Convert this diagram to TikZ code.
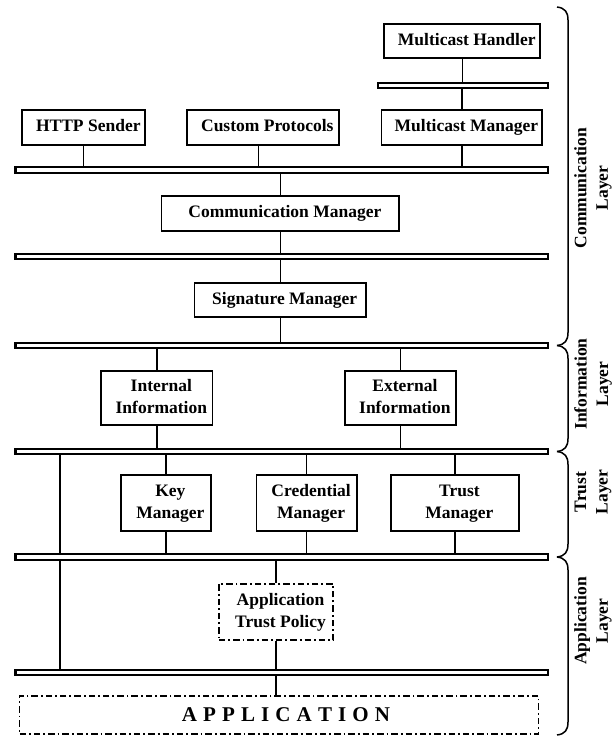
\documentclass[tikz,border=0pt]{standalone}
\usepackage{fontspec}
\setmainfont{Liberation Serif}
\newcommand\lbl{\fontsize{17.5}{21.5}\selectfont\bfseries}
\newcommand\lsp{\hspace{6.1pt}}
\newcommand\sh[1]{\hspace*{9pt}\begin{tabular}{@{}c@{}}#1\end{tabular}}
\begin{document}
\begin{tikzpicture}[x=1pt,y=-1pt,
  box/.style={draw, line width=1.7pt, inner sep=0pt, font=\lbl},
  bus/.style={draw, line width=2.3pt, inner sep=0pt, minimum height=5.6pt, fill=white},
  wire/.style={line width=1.3pt},
  dd/.style={line width=1.6pt, dash pattern=on 6.5pt off 3pt on 1.8pt off 3pt},
  brk/.style={line width=1.5pt},
  lay/.style={rotate=90, align=center, font=\lbl}]
\useasboundingbox (0,0) rectangle (615,737);

% boxes
\node[box, minimum width=156pt, minimum height=34.5pt] (mh) at (462.25,41) {\sh{Multicast Handler}};
\node[bus, minimum width=170pt] (sbar) at (463,85.5) {};
\node[box, minimum width=123pt, minimum height=35.5pt] (http) at (83.8,127.5) {\sh{HTTP Sender}};
\node[box, minimum width=152pt, minimum height=35.5pt] (cp) at (262.8,127.5) {\sh{Custom Protocols}};
\node[box, minimum width=160.6pt, minimum height=35.5pt] (mm) at (461.9,127.5) {\sh{Multicast Manager}};
\node[bus, minimum width=532.3pt] (b1) at (281.75,170) {};
\node[box, minimum width=237.6pt, minimum height=35.5pt] (cm) at (280.4,213.5) {\sh{Communication Manager}};
\node[bus, minimum width=532.3pt] (b2) at (281.75,256.5) {};
\node[box, minimum width=171.4pt, minimum height=34.5pt] (sm) at (280.2,300) {\sh{Signature Manager}};
\node[bus, minimum width=532.3pt] (b3) at (281.75,345.5) {};
\node[box, minimum width=111.3pt, minimum height=54.5pt] (int) at (156.85,398) {\sh{Internal\\Information}};
\node[box, minimum width=111.4pt, minimum height=54.5pt] (ext) at (400.4,398) {\sh{External\\Information}};
\node[bus, minimum width=532.3pt] (b4) at (281.75,451.5) {};
\node[box, minimum width=90.2pt, minimum height=56.5pt] (key) at (165.9,503) {\sh{Key\\Manager}};
\node[box, minimum width=100.3pt, minimum height=56.5pt] (cred) at (306.65,503) {\sh{Credential\\Manager}};
\node[box, minimum width=127.8pt, minimum height=56.5pt] (trust) at (454.9,503) {\sh{Trust\\Manager}};
\node[bus, minimum width=532.3pt] (b5) at (281.75,557) {};
\node[box, dd, minimum width=114.5pt, minimum height=56.5pt] (atp) at (276,612) {\sh{Application\\Trust Policy}};
\node[bus, minimum width=532.3pt] (b6) at (281.75,672.5) {};
\node[draw, dd, inner sep=0pt, minimum width=519pt, minimum height=38.5pt, font=\fontsize{21}{24}\selectfont\bfseries] (app) at (279,715)
  {\hspace{14pt}A\lsp P\lsp P\lsp L\lsp I\lsp C\lsp A\lsp T\lsp I\lsp O\lsp N};

% connectors
\draw[wire] (mh.south) -- (mh.south |- sbar.north);
\draw[wire] (mm.north) -- (mm.north |- sbar.south);
\draw[wire] (http.south) -- (http.south |- b1.north);
\draw[wire] ([xshift=-4.5pt]cp.south) -- ([xshift=-4.5pt]cp.south |- b1.north);
\draw[wire] (mm.south) -- (mm.south |- b1.north);
\draw[wire] (cm.north) -- (cm.north |- b1.south);
\draw[wire] (cm.south) -- (cm.south |- b2.north);
\draw[wire] (sm.north) -- (sm.north |- b2.south);
\draw[wire] (sm.south) -- (sm.south |- b3.north);
\draw[wire] (int.north) -- (int.north |- b3.south);
\draw[wire] (ext.north) -- (ext.north |- b3.south);
\draw[wire] (int.south) -- (int.south |- b4.north);
\draw[wire] (ext.south) -- (ext.south |- b4.north);
\draw[wire] (key.north) -- (key.north |- b4.south);
\draw[wire] (cred.north) -- (cred.north |- b4.south);
\draw[wire] (trust.north) -- (trust.north |- b4.south);
\draw[wire] (key.south) -- (key.south |- b5.north);
\draw[wire] (cred.south) -- (cred.south |- b5.north);
\draw[wire] (trust.south) -- (trust.south |- b5.north);
\coordinate (lv) at (60,0);
\draw[wire] (lv |- b4.south) -- (lv |- b5.north);
\draw[wire] (lv |- b5.south) -- (lv |- b6.north);
\draw[wire] (atp.north) -- (atp.north |- b5.south);
\draw[wire] (atp.south) -- (atp.south |- b6.north);
\draw[wire] (atp.south |- b6.south) -- (atp.south |- app.north);

% layer brackets
\foreach \ya/\yb in {7/345.5, 345.5/451.5, 451.5/557, 557/735}{
  \draw[brk] (557,\ya) .. controls (565,\ya+1) and (568,\ya+5) .. (568,\ya+13)
     -- (568,\yb-13) .. controls (568,\yb-5) and (565,\yb-1) .. (557,\yb);
}
\node[lay] (lc) at (593,188) {Communication\\Layer};
\node[lay] (li) at (593,384) {Information\\Layer};
\node[lay] (lt) at (593,492) {Trust\\Layer};
\node[lay] (la) at (593,621) {Application\\Layer};
\end{tikzpicture}
\end{document}
